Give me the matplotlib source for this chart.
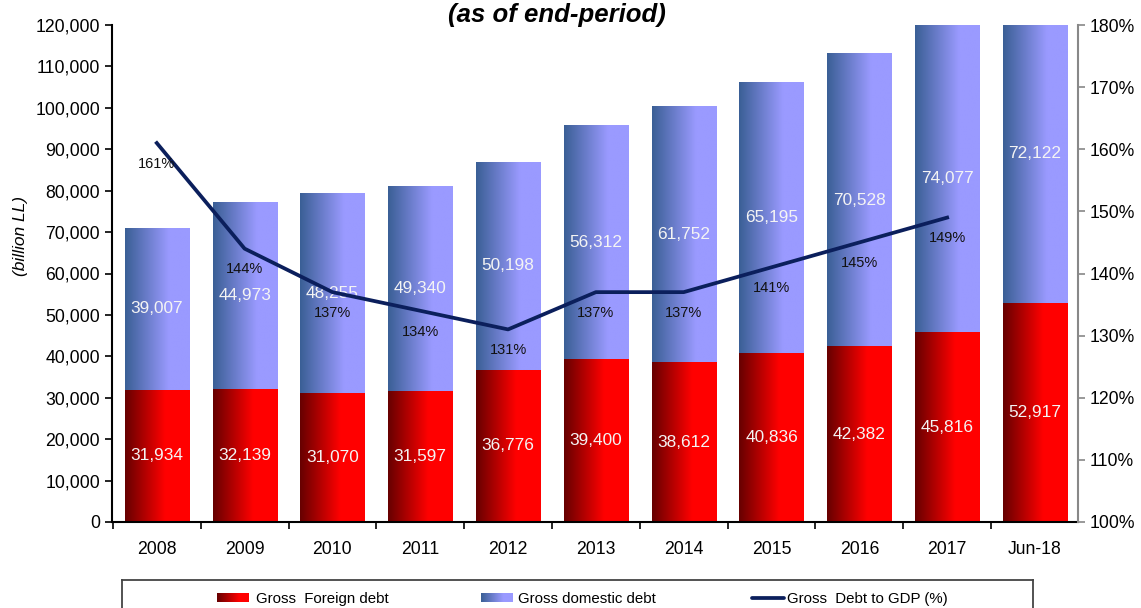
import numpy as np
import matplotlib
matplotlib.use("Agg")
import matplotlib.pyplot as plt
from matplotlib.colors import to_rgb
from matplotlib.ticker import FuncFormatter, MultipleLocator, FixedLocator

plt.rcParams['font.family'] = ['Liberation Sans', 'DejaVu Sans']

categories = ['2008', '2009', '2010', '2011', '2012', '2013', '2014', '2015', '2016', '2017', 'Jun-18']
foreign = [31934, 32139, 31070, 31597, 36776, 39400, 38612, 40836, 42382, 45816, 52917]
domestic = [39007, 44973, 48255, 49340, 50198, 56312, 61752, 65195, 70528, 74077, 72122]
debt_gdp = [161, 144, 137, 134, 131, 137, 137, 141, 145, 149]

title = '(as of end-period)'
ylabel = '(billion LL)'
legend_labels = ['Gross  Foreign debt', 'Gross domestic debt', 'Gross  Debt to GDP (%)']

W, H = 1141, 608
fig = plt.figure(figsize=(W / 100, H / 100), dpi=100)
ax = fig.add_axes([112 / W, 1 - 522 / H, (1078 - 112) / W, (522 - 25) / H])

x = np.arange(len(categories))
bw = 0.73

red_l, red_r = to_rgb('#660000'), to_rgb('#ff0000')
blu_l, blu_r = to_rgb('#3a5f95'), to_rgb('#9a9aff')


def grad_img(c0, c1, stop=0.65, n=256):
    t = np.clip(np.linspace(0, 1, n) / stop, 0, 1)
    c0, c1 = np.array(c0), np.array(c1)
    row = c0[None, :] * (1 - t[:, None]) + c1[None, :] * t[:, None]
    return row[None, :, :]


b1 = ax.bar(x, foreign, bw, color='none', edgecolor='none')
b2 = ax.bar(x, domestic, bw, bottom=foreign, color='none', edgecolor='none')

gimg_r = grad_img(red_l, red_r, 0.62)
gimg_b = grad_img(blu_l, blu_r, 0.68)
for cont, img in ((b1, gimg_r), (b2, gimg_b)):
    for r in cont:
        x0, y0, w, h = r.get_x(), r.get_y(), r.get_width(), r.get_height()
        ax.imshow(img, extent=[x0, x0 + w, y0, y0 + h], aspect='auto',
                  interpolation='bilinear', zorder=1)

for i in range(len(categories)):
    ax.text(x[i], foreign[i] / 2, f'{foreign[i]:,}', ha='center', va='center',
            color='#f4f4f4', fontsize=12.4, zorder=3)
    ax.text(x[i], foreign[i] + domestic[i] / 2, f'{domestic[i]:,}', ha='center', va='center',
            color='#f4f4f4', fontsize=12.4, zorder=3)

ax.set_xlim(-0.51, 10.49)
ax.set_ylim(0, 120000)
ax.yaxis.set_major_locator(MultipleLocator(10000))
ax.yaxis.set_major_formatter(FuncFormatter(lambda v, p: f'{int(v):,}'))
ax.tick_params(axis='y', labelsize=12.7, length=5, width=1.2, direction='out', colors='black')
ax.xaxis.set_major_locator(FixedLocator(np.arange(-0.5, 11, 1)))
ax.xaxis.set_major_formatter(FuncFormatter(lambda v, p: ''))
ax.xaxis.set_minor_locator(FixedLocator(x))
ax.set_xticklabels(categories, minor=True)
ax.tick_params(axis='x', which='major', length=5, width=1.2, direction='out')
ax.tick_params(axis='x', which='minor', length=0, labelsize=12.7, pad=14)
for s in ('top', 'right'):
    ax.spines[s].set_visible(False)
ax.spines['left'].set_linewidth(1.5)
ax.spines['bottom'].set_linewidth(1.5)

fig.text(21 / W, 1 - 236 / H, ylabel, rotation=90, ha='center', va='center',
         fontsize=12.5, style='italic')

ax2 = ax.twinx()
ax2.set_ylim(100, 180)
ax2.plot(x[:len(debt_gdp)], debt_gdp, color='#0b1f5c', lw=2.7, zorder=4)
for i, v in enumerate(debt_gdp):
    ax2.annotate(f'{v}%', (x[i], v), xytext=(0, -15), textcoords='offset points',
                 ha='center', va='center', fontsize=10.5, color='#111111', zorder=5)
ax2.yaxis.set_major_locator(MultipleLocator(10))
ax2.yaxis.set_major_formatter(FuncFormatter(lambda v, p: f'{int(v)}%'))
ax2.tick_params(axis='y', labelsize=12.7, length=5, width=1.2, direction='out',
                color='#888888', labelcolor='black')
for s in ('top', 'left', 'bottom'):
    ax2.spines[s].set_visible(False)
ax2.spines['right'].set_color('#888888')
ax2.spines['right'].set_linewidth(1.5)

fig.text(557 / W, 1 - 15 / H, title, ha='center', va='center', fontsize=18.5,
         fontweight='bold', style='italic')

# legend box (image-pixel coordinates)
lb = fig.add_axes([122 / W, -0.05, (1033 - 122) / W, 0.05 + (608 - 580) / H])
lb.set_xticks([])
lb.set_yticks([])
for s in lb.spines.values():
    s.set_color('#444444')
    s.set_linewidth(1.3)
lb.imshow(grad_img(red_l, red_r, 0.7), extent=[217, 249, 602, 593], aspect='auto', interpolation='bilinear')
lb.imshow(grad_img(blu_l, blu_r, 0.7), extent=[481, 513, 602, 593], aspect='auto', interpolation='bilinear')
lb.plot([752, 784], [597.5, 597.5], color='#0b1f5c', lw=2.7, solid_capstyle='round')
lb.set_xlim(122, 1033)
lb.set_ylim(608 + 0.05 * H, 580)
for xt, lab in zip([256, 518, 787], legend_labels):
    lb.text(xt, 599, lab, ha='left', va='center', fontsize=10.8)

fig.savefig('out.png', dpi=100)
